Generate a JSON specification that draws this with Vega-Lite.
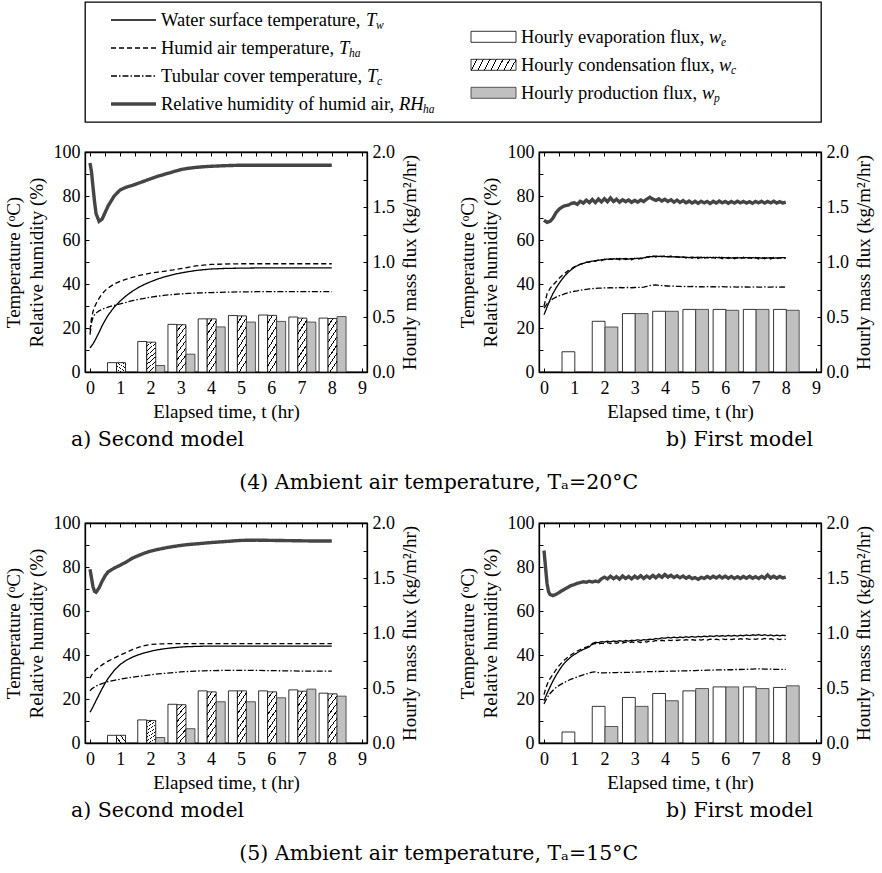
{
"$schema": "https://vega.github.io/schema/vega-lite/v6.json",
"padding": {"left": 3, "top": 1, "right": 5, "bottom": 3},
"background": "white",
"spacing": 19,
"config": {
 "view": {"stroke": "black", "strokeWidth": 1.3},
 "font": "Liberation Serif",
 "axis": {"grid": false, "domainColor": "black", "domainWidth": 1.3, "tickColor": "black", "tickWidth": 1, "tickSize": -4, "labelFont": "Liberation Serif", "labelFontSize": 18, "labelColor": "black", "labelPadding": 9, "labelFlush": false, "labelOverlap": false, "titleFont": "Liberation Serif", "titleFontSize": 19, "titleFontWeight": "normal", "titleColor": "black"},
 "axisX": {"labelPadding": 11},
 "title": {"font": "DejaVu Serif", "fontSize": 20.5, "fontWeight": "normal", "color": "black"}
},
"datasets": {
 "legend": [
  {"id": "w", "kind": "line", "s": "Tw", "col": 0, "row": 0, "label": "Water surface temperature,", "sym": "T", "sub": "w"},
  {"id": "ha", "kind": "line", "s": "Tha", "col": 0, "row": 1, "label": "Humid air temperature,", "sym": "T", "sub": "ha"},
  {"id": "c", "kind": "line", "s": "Tc", "col": 0, "row": 2, "label": "Tubular cover temperature,", "sym": "T", "sub": "c"},
  {"id": "rh", "kind": "line", "s": "RH", "col": 0, "row": 3, "label": "Relative humidity of humid air,", "sym": "RH", "sub": "ha"},
  {"id": "we", "kind": "bar", "s": "e", "col": 1, "row": 0.6, "label": "Hourly evaporation flux,", "sym": "w", "sub": "e"},
  {"id": "wc", "kind": "bar", "s": "c", "col": 1, "row": 1.6, "label": "Hourly condensation flux,", "sym": "w", "sub": "c"},
  {"id": "wp", "kind": "bar", "s": "p", "col": 1, "row": 2.6, "label": "Hourly production flux,", "sym": "w", "sub": "p"}
 ],
 "btl": [
  {"h": 1, "k": "e", "w": 0.085}, {"h": 1, "k": "c", "w": 0.085},
  {"h": 2, "k": "e", "w": 0.277}, {"h": 2, "k": "c", "w": 0.271}, {"h": 2, "k": "p", "w": 0.059},
  {"h": 3, "k": "e", "w": 0.433}, {"h": 3, "k": "c", "w": 0.43}, {"h": 3, "k": "p", "w": 0.162},
  {"h": 4, "k": "e", "w": 0.483}, {"h": 4, "k": "c", "w": 0.483}, {"h": 4, "k": "p", "w": 0.41},
  {"h": 5, "k": "e", "w": 0.513}, {"h": 5, "k": "c", "w": 0.51}, {"h": 5, "k": "p", "w": 0.454},
  {"h": 6, "k": "e", "w": 0.518}, {"h": 6, "k": "c", "w": 0.515}, {"h": 6, "k": "p", "w": 0.46},
  {"h": 7, "k": "e", "w": 0.5}, {"h": 7, "k": "c", "w": 0.49}, {"h": 7, "k": "p", "w": 0.454},
  {"h": 8, "k": "e", "w": 0.49}, {"h": 8, "k": "c", "w": 0.486}, {"h": 8, "k": "p", "w": 0.504}
 ],
 "btr": [
  {"h": 1, "k": "e", "w": 0.184},
  {"h": 2, "k": "e", "w": 0.461}, {"h": 2, "k": "p", "w": 0.409},
  {"h": 3, "k": "e", "w": 0.531}, {"h": 3, "k": "p", "w": 0.531},
  {"h": 4, "k": "e", "w": 0.552}, {"h": 4, "k": "p", "w": 0.552},
  {"h": 5, "k": "e", "w": 0.569}, {"h": 5, "k": "p", "w": 0.569},
  {"h": 6, "k": "e", "w": 0.569}, {"h": 6, "k": "p", "w": 0.561},
  {"h": 7, "k": "e", "w": 0.569}, {"h": 7, "k": "p", "w": 0.569},
  {"h": 8, "k": "e", "w": 0.569}, {"h": 8, "k": "p", "w": 0.561}
 ],
 "bbl": [
  {"h": 1, "k": "e", "w": 0.07}, {"h": 1, "k": "c", "w": 0.07},
  {"h": 2, "k": "e", "w": 0.21}, {"h": 2, "k": "c", "w": 0.205}, {"h": 2, "k": "p", "w": 0.05},
  {"h": 3, "k": "e", "w": 0.352}, {"h": 3, "k": "c", "w": 0.348}, {"h": 3, "k": "p", "w": 0.13},
  {"h": 4, "k": "e", "w": 0.474}, {"h": 4, "k": "c", "w": 0.465}, {"h": 4, "k": "p", "w": 0.375},
  {"h": 5, "k": "e", "w": 0.474}, {"h": 5, "k": "c", "w": 0.474}, {"h": 5, "k": "p", "w": 0.375},
  {"h": 6, "k": "e", "w": 0.474}, {"h": 6, "k": "c", "w": 0.465}, {"h": 6, "k": "p", "w": 0.411},
  {"h": 7, "k": "e", "w": 0.483}, {"h": 7, "k": "c", "w": 0.471}, {"h": 7, "k": "p", "w": 0.49},
  {"h": 8, "k": "e", "w": 0.453}, {"h": 8, "k": "c", "w": 0.447}, {"h": 8, "k": "p", "w": 0.426}
 ],
 "bbr": [
  {"h": 1, "k": "e", "w": 0.1},
  {"h": 2, "k": "e", "w": 0.333}, {"h": 2, "k": "p", "w": 0.15},
  {"h": 3, "k": "e", "w": 0.414}, {"h": 3, "k": "p", "w": 0.333},
  {"h": 4, "k": "e", "w": 0.45}, {"h": 4, "k": "p", "w": 0.384},
  {"h": 5, "k": "e", "w": 0.474}, {"h": 5, "k": "p", "w": 0.495},
  {"h": 6, "k": "e", "w": 0.51}, {"h": 6, "k": "p", "w": 0.51},
  {"h": 7, "k": "e", "w": 0.51}, {"h": 7, "k": "p", "w": 0.495},
  {"h": 8, "k": "e", "w": 0.505}, {"h": 8, "k": "p", "w": 0.52}
 ],
 "tl": [
  {"t": 0, "Tw": 11, "Tha": 19, "Tc": 17, "RH": 95},
  {"t": 0.05, "Tw": 11.8, "Tha": 24.5, "Tc": 22.5, "RH": 91},
  {"t": 0.1, "Tw": 12.8, "Tha": 27.5, "Tc": 24.8, "RH": 84},
  {"t": 0.15, "Tw": 14, "Tha": 29.5, "Tc": 26, "RH": 77.5},
  {"t": 0.2, "Tw": 15.3, "Tha": 31, "Tc": 26.8, "RH": 72},
  {"t": 0.3, "Tw": 18, "Tha": 33.5, "Tc": 27.8, "RH": 68.5},
  {"t": 0.4, "Tw": 21, "Tha": 35.5, "Tc": 28.5, "RH": 69.5},
  {"t": 0.5, "Tw": 23.5, "Tha": 37, "Tc": 29, "RH": 72.5},
  {"t": 0.6, "Tw": 25.8, "Tha": 38.2, "Tc": 29.5, "RH": 75.5},
  {"t": 0.8, "Tw": 29.5, "Tha": 40, "Tc": 30.3, "RH": 80},
  {"t": 1, "Tw": 32.3, "Tha": 41.2, "Tc": 31, "RH": 82.8},
  {"t": 1.2, "Tw": 34.7, "Tha": 42.2, "Tc": 31.7, "RH": 84},
  {"t": 1.4, "Tw": 36.7, "Tha": 43, "Tc": 32.4, "RH": 84.8},
  {"t": 1.6, "Tw": 38.4, "Tha": 43.8, "Tc": 33, "RH": 85.8},
  {"t": 1.8, "Tw": 39.8, "Tha": 44.4, "Tc": 33.5, "RH": 86.8},
  {"t": 2, "Tw": 41, "Tha": 44.9, "Tc": 34, "RH": 87.8},
  {"t": 2.25, "Tw": 42.3, "Tha": 45.4, "Tc": 34.5, "RH": 89},
  {"t": 2.5, "Tw": 43.4, "Tha": 45.9, "Tc": 34.9, "RH": 90},
  {"t": 2.75, "Tw": 44.3, "Tha": 46.4, "Tc": 35.2, "RH": 91},
  {"t": 3, "Tw": 45, "Tha": 47, "Tc": 35.5, "RH": 92},
  {"t": 3.25, "Tw": 45.6, "Tha": 47.6, "Tc": 35.7, "RH": 92.6},
  {"t": 3.5, "Tw": 46.1, "Tha": 48.2, "Tc": 35.9, "RH": 93},
  {"t": 3.75, "Tw": 46.5, "Tha": 48.6, "Tc": 36, "RH": 93.3},
  {"t": 4, "Tw": 46.8, "Tha": 48.9, "Tc": 36.1, "RH": 93.5},
  {"t": 4.5, "Tw": 47.1, "Tha": 49.1, "Tc": 36.3, "RH": 93.8},
  {"t": 5, "Tw": 47.2, "Tha": 49.2, "Tc": 36.4, "RH": 94},
  {"t": 5.5, "Tw": 47.3, "Tha": 49.2, "Tc": 36.5, "RH": 94},
  {"t": 6, "Tw": 47.3, "Tha": 49.2, "Tc": 36.5, "RH": 94},
  {"t": 7, "Tw": 47.3, "Tha": 49.2, "Tc": 36.5, "RH": 94},
  {"t": 8, "Tw": 47.3, "Tha": 49.2, "Tc": 36.5, "RH": 94}
 ],
 "bl": [
  {"t": 0, "Tw": 14, "Tha": 29.5, "Tc": 23.7, "RH": 79},
  {"t": 0.05, "Tw": 15.2, "Tha": 30.8, "Tc": 24.5, "RH": 75},
  {"t": 0.1, "Tw": 16.5, "Tha": 31.8, "Tc": 25, "RH": 71},
  {"t": 0.15, "Tw": 17.9, "Tha": 32.7, "Tc": 25.5, "RH": 68.9},
  {"t": 0.2, "Tw": 19.3, "Tha": 33.4, "Tc": 25.9, "RH": 68.5},
  {"t": 0.3, "Tw": 22, "Tha": 34.5, "Tc": 26.5, "RH": 70.5},
  {"t": 0.4, "Tw": 24.7, "Tha": 35.5, "Tc": 27, "RH": 73.5},
  {"t": 0.5, "Tw": 27.2, "Tha": 36.4, "Tc": 27.5, "RH": 76},
  {"t": 0.6, "Tw": 29.4, "Tha": 37.2, "Tc": 27.9, "RH": 77.8},
  {"t": 0.8, "Tw": 33, "Tha": 38.6, "Tc": 28.5, "RH": 79.5},
  {"t": 1, "Tw": 35.7, "Tha": 40, "Tc": 29, "RH": 80.8},
  {"t": 1.2, "Tw": 37.6, "Tha": 41.2, "Tc": 29.5, "RH": 82.3},
  {"t": 1.4, "Tw": 39, "Tha": 42.4, "Tc": 29.9, "RH": 84},
  {"t": 1.6, "Tw": 40.1, "Tha": 43.5, "Tc": 30.3, "RH": 85.2},
  {"t": 1.8, "Tw": 41, "Tha": 44.3, "Tc": 30.6, "RH": 86.3},
  {"t": 2, "Tw": 41.7, "Tha": 44.8, "Tc": 31, "RH": 87.2},
  {"t": 2.25, "Tw": 42.4, "Tha": 45, "Tc": 31.4, "RH": 88},
  {"t": 2.5, "Tw": 42.9, "Tha": 45.1, "Tc": 31.7, "RH": 88.7},
  {"t": 2.75, "Tw": 43.3, "Tha": 45.2, "Tc": 32, "RH": 89.3},
  {"t": 3, "Tw": 43.6, "Tha": 45.2, "Tc": 32.3, "RH": 89.8},
  {"t": 3.25, "Tw": 43.8, "Tha": 45.2, "Tc": 32.5, "RH": 90.2},
  {"t": 3.5, "Tw": 43.9, "Tha": 45.2, "Tc": 32.7, "RH": 90.5},
  {"t": 3.75, "Tw": 44, "Tha": 45.2, "Tc": 32.8, "RH": 90.8},
  {"t": 4, "Tw": 44, "Tha": 45.2, "Tc": 32.9, "RH": 91.1},
  {"t": 4.5, "Tw": 44, "Tha": 45.2, "Tc": 33, "RH": 91.6},
  {"t": 5, "Tw": 44, "Tha": 45.2, "Tc": 33, "RH": 92.1},
  {"t": 5.5, "Tw": 44, "Tha": 45.2, "Tc": 33, "RH": 92.2},
  {"t": 6, "Tw": 44, "Tha": 45.2, "Tc": 32.9, "RH": 92.1},
  {"t": 6.5, "Tw": 44, "Tha": 45.2, "Tc": 32.8, "RH": 92},
  {"t": 7, "Tw": 44, "Tha": 45.2, "Tc": 32.7, "RH": 91.9},
  {"t": 7.5, "Tw": 44, "Tha": 45.2, "Tc": 32.7, "RH": 91.8},
  {"t": 8, "Tw": 44, "Tha": 45.2, "Tc": 32.7, "RH": 91.8}
 ],
 "tr": [
  {"t": 0, "Tw": 26, "Tha": 30, "Tc": 29, "RH": 69},
  {"t": 0.1, "Tw": 29.5, "Tha": 35.5, "Tc": 31, "RH": 68},
  {"t": 0.2, "Tw": 32.8, "Tha": 38, "Tc": 32.3, "RH": 68.5},
  {"t": 0.3, "Tw": 35.8, "Tha": 39.6, "Tc": 33.3, "RH": 70},
  {"t": 0.4, "Tw": 38.2, "Tha": 41, "Tc": 34, "RH": 72.5},
  {"t": 0.5, "Tw": 40.3, "Tha": 42.6, "Tc": 34.6, "RH": 74},
  {"t": 0.6, "Tw": 42.2, "Tha": 43.9, "Tc": 35.1, "RH": 75},
  {"t": 0.7, "Tw": 43.9, "Tha": 45, "Tc": 35.6, "RH": 75.6},
  {"t": 0.8, "Tw": 45.3, "Tha": 46.1, "Tc": 36, "RH": 75.8},
  {"t": 0.9, "Tw": 46.5, "Tha": 46.9, "Tc": 36.4, "RH": 76.6},
  {"t": 1, "Tw": 47.5, "Tha": 47.8, "Tc": 36.7, "RH": 76.9},
  {"t": 1.1, "Tw": 48.3, "Tha": 48.4, "Tc": 36.9, "RH": 76.2},
  {"t": 1.2, "Tw": 48.9, "Tha": 49, "Tc": 37.2, "RH": 77.6},
  {"t": 1.3, "Tw": 49.4, "Tha": 49.4, "Tc": 37.4, "RH": 76.8},
  {"t": 1.4, "Tw": 49.8, "Tha": 49.9, "Tc": 37.6, "RH": 78.1},
  {"t": 1.5, "Tw": 50.1, "Tha": 50, "Tc": 37.8, "RH": 77},
  {"t": 1.6, "Tw": 50.4, "Tha": 50.5, "Tc": 37.9, "RH": 78.4},
  {"t": 1.7, "Tw": 50.6, "Tha": 50.3, "Tc": 38, "RH": 77},
  {"t": 1.8, "Tw": 50.8, "Tha": 51, "Tc": 38.1, "RH": 78.6},
  {"t": 1.9, "Tw": 51, "Tha": 50.6, "Tc": 38.1, "RH": 77.3},
  {"t": 2, "Tw": 51.1, "Tha": 51.3, "Tc": 38.2, "RH": 78.8},
  {"t": 2.1, "Tw": 51.3, "Tha": 50.8, "Tc": 38.2, "RH": 77.4},
  {"t": 2.2, "Tw": 51.2, "Tha": 51.5, "Tc": 38.3, "RH": 79.1},
  {"t": 2.3, "Tw": 51.5, "Tha": 51, "Tc": 38.2, "RH": 77.5},
  {"t": 2.4, "Tw": 51.3, "Tha": 51.6, "Tc": 38.3, "RH": 78.5},
  {"t": 2.5, "Tw": 51.6, "Tha": 51, "Tc": 38.4, "RH": 77.2},
  {"t": 2.6, "Tw": 51.4, "Tha": 51.7, "Tc": 38.3, "RH": 78.3},
  {"t": 2.7, "Tw": 51.6, "Tha": 51.1, "Tc": 38.4, "RH": 77.4},
  {"t": 2.8, "Tw": 51.3, "Tha": 51.6, "Tc": 38.4, "RH": 78.2},
  {"t": 2.9, "Tw": 51.6, "Tha": 51, "Tc": 38.3, "RH": 77.1},
  {"t": 3, "Tw": 51.5, "Tha": 51.7, "Tc": 38.4, "RH": 78},
  {"t": 3.1, "Tw": 51.7, "Tha": 51.2, "Tc": 38.5, "RH": 77.2},
  {"t": 3.2, "Tw": 51.5, "Tha": 51.8, "Tc": 38.4, "RH": 78.2},
  {"t": 3.3, "Tw": 51.9, "Tha": 51.4, "Tc": 38.6, "RH": 77.5},
  {"t": 3.4, "Tw": 52.2, "Tha": 52.3, "Tc": 38.9, "RH": 78.6},
  {"t": 3.5, "Tw": 52.5, "Tha": 52.2, "Tc": 39.3, "RH": 79.4},
  {"t": 3.6, "Tw": 52.4, "Tha": 52.8, "Tc": 39.5, "RH": 78.6},
  {"t": 3.7, "Tw": 52.7, "Tha": 52.3, "Tc": 39.6, "RH": 78},
  {"t": 3.8, "Tw": 52.5, "Tha": 52.9, "Tc": 39.4, "RH": 78.7},
  {"t": 3.9, "Tw": 52.6, "Tha": 52.4, "Tc": 39.3, "RH": 77.7},
  {"t": 4, "Tw": 52.4, "Tha": 52.8, "Tc": 39.2, "RH": 78.5},
  {"t": 4.1, "Tw": 52.5, "Tha": 52.2, "Tc": 39.1, "RH": 77.5},
  {"t": 4.2, "Tw": 52.3, "Tha": 52.7, "Tc": 39, "RH": 78.3},
  {"t": 4.3, "Tw": 52.4, "Tha": 52, "Tc": 39, "RH": 77.2},
  {"t": 4.4, "Tw": 52.2, "Tha": 52.5, "Tc": 38.9, "RH": 78.1},
  {"t": 4.5, "Tw": 52.3, "Tha": 51.9, "Tc": 38.9, "RH": 77.1},
  {"t": 4.6, "Tw": 52.1, "Tha": 52.4, "Tc": 38.8, "RH": 77.9},
  {"t": 4.7, "Tw": 52.2, "Tha": 51.8, "Tc": 38.9, "RH": 76.9},
  {"t": 4.8, "Tw": 52, "Tha": 52.3, "Tc": 38.8, "RH": 77.7},
  {"t": 4.9, "Tw": 52.2, "Tha": 51.7, "Tc": 38.9, "RH": 76.8},
  {"t": 5, "Tw": 52, "Tha": 52.3, "Tc": 38.8, "RH": 77.6},
  {"t": 5.1, "Tw": 52.2, "Tha": 51.6, "Tc": 38.7, "RH": 76.7},
  {"t": 5.2, "Tw": 51.9, "Tha": 52.3, "Tc": 38.8, "RH": 77.6},
  {"t": 5.3, "Tw": 52.1, "Tha": 51.6, "Tc": 38.7, "RH": 76.9},
  {"t": 5.4, "Tw": 51.9, "Tha": 52.2, "Tc": 38.8, "RH": 77.5},
  {"t": 5.5, "Tw": 52.1, "Tha": 51.5, "Tc": 38.7, "RH": 76.6},
  {"t": 5.6, "Tw": 51.9, "Tha": 52.2, "Tc": 38.8, "RH": 77.6},
  {"t": 5.7, "Tw": 52.1, "Tha": 51.6, "Tc": 38.7, "RH": 76.8},
  {"t": 5.8, "Tw": 51.9, "Tha": 52.2, "Tc": 38.7, "RH": 77.7},
  {"t": 5.9, "Tw": 52.1, "Tha": 51.5, "Tc": 38.8, "RH": 76.9},
  {"t": 6, "Tw": 51.9, "Tha": 52.1, "Tc": 38.7, "RH": 77.5},
  {"t": 6.1, "Tw": 52.1, "Tha": 51.6, "Tc": 38.7, "RH": 76.7},
  {"t": 6.2, "Tw": 51.8, "Tha": 52.2, "Tc": 38.6, "RH": 77.5},
  {"t": 6.3, "Tw": 52, "Tha": 51.5, "Tc": 38.7, "RH": 76.8},
  {"t": 6.4, "Tw": 51.8, "Tha": 52.1, "Tc": 38.6, "RH": 77.6},
  {"t": 6.5, "Tw": 52, "Tha": 51.5, "Tc": 38.7, "RH": 76.9},
  {"t": 6.6, "Tw": 51.8, "Tha": 52.2, "Tc": 38.6, "RH": 77.5},
  {"t": 6.7, "Tw": 52, "Tha": 51.4, "Tc": 38.7, "RH": 76.8},
  {"t": 6.8, "Tw": 51.8, "Tha": 52.1, "Tc": 38.6, "RH": 77.4},
  {"t": 6.9, "Tw": 52, "Tha": 51.5, "Tc": 38.6, "RH": 76.7},
  {"t": 7, "Tw": 51.8, "Tha": 52.1, "Tc": 38.7, "RH": 77.5},
  {"t": 7.1, "Tw": 52, "Tha": 51.4, "Tc": 38.6, "RH": 76.9},
  {"t": 7.2, "Tw": 51.7, "Tha": 52.1, "Tc": 38.6, "RH": 77.6},
  {"t": 7.3, "Tw": 52, "Tha": 51.5, "Tc": 38.7, "RH": 76.8},
  {"t": 7.4, "Tw": 51.8, "Tha": 52, "Tc": 38.6, "RH": 77.5},
  {"t": 7.5, "Tw": 52, "Tha": 51.4, "Tc": 38.6, "RH": 76.9},
  {"t": 7.6, "Tw": 51.7, "Tha": 52.1, "Tc": 38.7, "RH": 77.6},
  {"t": 7.7, "Tw": 51.9, "Tha": 51.5, "Tc": 38.6, "RH": 76.8},
  {"t": 7.8, "Tw": 51.8, "Tha": 52, "Tc": 38.6, "RH": 77.4},
  {"t": 7.9, "Tw": 52, "Tha": 51.5, "Tc": 38.7, "RH": 76.8},
  {"t": 8, "Tw": 51.9, "Tha": 51.9, "Tc": 38.6, "RH": 77.2}
 ],
 "br": [
  {"t": 0, "Tw": 19.2, "Tha": 22, "Tc": 17.7, "RH": 87.5},
  {"t": 0.05, "Tw": 20.9, "Tha": 24.5, "Tc": 19.2, "RH": 80},
  {"t": 0.1, "Tw": 22.5, "Tha": 26.5, "Tc": 20.5, "RH": 72.5},
  {"t": 0.15, "Tw": 24, "Tha": 28, "Tc": 21.5, "RH": 68.8},
  {"t": 0.2, "Tw": 25.5, "Tha": 29.3, "Tc": 22.5, "RH": 67.5},
  {"t": 0.3, "Tw": 28.3, "Tha": 31.2, "Tc": 24, "RH": 67},
  {"t": 0.4, "Tw": 30.8, "Tha": 33.3, "Tc": 25.2, "RH": 67.6},
  {"t": 0.5, "Tw": 33, "Tha": 35.2, "Tc": 26.2, "RH": 68.4},
  {"t": 0.6, "Tw": 35, "Tha": 36.7, "Tc": 27, "RH": 69.3},
  {"t": 0.7, "Tw": 36.7, "Tha": 38, "Tc": 27.7, "RH": 70.1},
  {"t": 0.8, "Tw": 38, "Tha": 39.1, "Tc": 28.4, "RH": 70.8},
  {"t": 0.9, "Tw": 39.2, "Tha": 40.1, "Tc": 29, "RH": 71.6},
  {"t": 1, "Tw": 40.2, "Tha": 41, "Tc": 29.5, "RH": 72},
  {"t": 1.1, "Tw": 41, "Tha": 41.8, "Tc": 30, "RH": 72.6},
  {"t": 1.2, "Tw": 41.8, "Tha": 42.5, "Tc": 30.5, "RH": 72.9},
  {"t": 1.3, "Tw": 42.5, "Tha": 43.1, "Tc": 31, "RH": 73.3},
  {"t": 1.4, "Tw": 43.1, "Tha": 43.6, "Tc": 31.4, "RH": 73.1},
  {"t": 1.5, "Tw": 43.7, "Tha": 44.1, "Tc": 31.8, "RH": 73.5},
  {"t": 1.6, "Tw": 45.2, "Tha": 44.8, "Tc": 32.2, "RH": 73.2},
  {"t": 1.7, "Tw": 45.8, "Tha": 45.3, "Tc": 32.3, "RH": 73.6},
  {"t": 1.8, "Tw": 45.6, "Tha": 45, "Tc": 32, "RH": 73.3},
  {"t": 1.9, "Tw": 46.1, "Tha": 45.4, "Tc": 31.9, "RH": 74.6},
  {"t": 2, "Tw": 45.9, "Tha": 45.1, "Tc": 31.9, "RH": 75.4},
  {"t": 2.1, "Tw": 46.3, "Tha": 45.6, "Tc": 32, "RH": 74.6},
  {"t": 2.2, "Tw": 46, "Tha": 45.2, "Tc": 31.9, "RH": 75.8},
  {"t": 2.3, "Tw": 46.4, "Tha": 45.7, "Tc": 32, "RH": 74.7},
  {"t": 2.4, "Tw": 46.1, "Tha": 45.3, "Tc": 32, "RH": 75.6},
  {"t": 2.5, "Tw": 46.5, "Tha": 45.8, "Tc": 32.1, "RH": 74.5},
  {"t": 2.6, "Tw": 46.2, "Tha": 45.4, "Tc": 32, "RH": 75.9},
  {"t": 2.7, "Tw": 46.6, "Tha": 45.9, "Tc": 32.1, "RH": 74.8},
  {"t": 2.8, "Tw": 46.3, "Tha": 45.5, "Tc": 32.1, "RH": 75.7},
  {"t": 2.9, "Tw": 46.7, "Tha": 46, "Tc": 32.2, "RH": 74.6},
  {"t": 3, "Tw": 46.5, "Tha": 45.6, "Tc": 32.2, "RH": 75.8},
  {"t": 3.1, "Tw": 46.9, "Tha": 46.1, "Tc": 32.2, "RH": 74.9},
  {"t": 3.2, "Tw": 46.6, "Tha": 45.7, "Tc": 32.3, "RH": 76},
  {"t": 3.3, "Tw": 47, "Tha": 46.2, "Tc": 32.3, "RH": 74.8},
  {"t": 3.4, "Tw": 46.8, "Tha": 45.9, "Tc": 32.4, "RH": 75.9},
  {"t": 3.5, "Tw": 47.2, "Tha": 46.4, "Tc": 32.4, "RH": 75},
  {"t": 3.6, "Tw": 47, "Tha": 46.1, "Tc": 32.4, "RH": 76.2},
  {"t": 3.7, "Tw": 47.5, "Tha": 46.6, "Tc": 32.5, "RH": 75.1},
  {"t": 3.8, "Tw": 47.3, "Tha": 46.3, "Tc": 32.5, "RH": 76.3},
  {"t": 3.9, "Tw": 47.8, "Tha": 46.7, "Tc": 32.6, "RH": 75.3},
  {"t": 4, "Tw": 47.6, "Tha": 46.4, "Tc": 32.6, "RH": 76.6},
  {"t": 4.1, "Tw": 48, "Tha": 46.8, "Tc": 32.6, "RH": 75.4},
  {"t": 4.2, "Tw": 47.7, "Tha": 46.5, "Tc": 32.7, "RH": 76.2},
  {"t": 4.3, "Tw": 48.1, "Tha": 46.9, "Tc": 32.7, "RH": 75.2},
  {"t": 4.4, "Tw": 47.8, "Tha": 46.6, "Tc": 32.7, "RH": 76},
  {"t": 4.5, "Tw": 48.2, "Tha": 46.9, "Tc": 32.8, "RH": 75.1},
  {"t": 4.6, "Tw": 47.9, "Tha": 46.6, "Tc": 32.8, "RH": 75.9},
  {"t": 4.7, "Tw": 48.3, "Tha": 47, "Tc": 32.8, "RH": 74.9},
  {"t": 4.8, "Tw": 48, "Tha": 46.7, "Tc": 32.9, "RH": 75.7},
  {"t": 4.9, "Tw": 48.4, "Tha": 47, "Tc": 32.9, "RH": 74.7},
  {"t": 5, "Tw": 48.1, "Tha": 46.7, "Tc": 32.9, "RH": 75.2},
  {"t": 5.1, "Tw": 48.5, "Tha": 47.1, "Tc": 33, "RH": 74.4},
  {"t": 5.2, "Tw": 48.2, "Tha": 46.8, "Tc": 33, "RH": 75.3},
  {"t": 5.3, "Tw": 48.6, "Tha": 47.1, "Tc": 33, "RH": 74.8},
  {"t": 5.4, "Tw": 48.3, "Tha": 46.8, "Tc": 33.1, "RH": 75.7},
  {"t": 5.5, "Tw": 48.7, "Tha": 47.2, "Tc": 33.1, "RH": 74.9},
  {"t": 5.6, "Tw": 48.4, "Tha": 46.9, "Tc": 33.1, "RH": 75.8},
  {"t": 5.7, "Tw": 48.8, "Tha": 47.2, "Tc": 33.2, "RH": 75},
  {"t": 5.8, "Tw": 48.5, "Tha": 46.9, "Tc": 33.2, "RH": 75.9},
  {"t": 5.9, "Tw": 48.8, "Tha": 47.3, "Tc": 33.2, "RH": 75},
  {"t": 6, "Tw": 48.5, "Tha": 47, "Tc": 33.3, "RH": 75.8},
  {"t": 6.1, "Tw": 48.9, "Tha": 47.3, "Tc": 33.3, "RH": 74.9},
  {"t": 6.2, "Tw": 48.6, "Tha": 47, "Tc": 33.3, "RH": 75.7},
  {"t": 6.3, "Tw": 48.9, "Tha": 47.3, "Tc": 33.4, "RH": 74.8},
  {"t": 6.4, "Tw": 48.6, "Tha": 47, "Tc": 33.4, "RH": 75.6},
  {"t": 6.5, "Tw": 49, "Tha": 47.4, "Tc": 33.4, "RH": 74.8},
  {"t": 6.6, "Tw": 48.7, "Tha": 47.1, "Tc": 33.5, "RH": 75.7},
  {"t": 6.7, "Tw": 49.1, "Tha": 47.4, "Tc": 33.5, "RH": 74.9},
  {"t": 6.8, "Tw": 48.8, "Tha": 47.1, "Tc": 33.6, "RH": 75.8},
  {"t": 6.9, "Tw": 49.2, "Tha": 47.4, "Tc": 33.6, "RH": 74.9},
  {"t": 7, "Tw": 48.9, "Tha": 47.1, "Tc": 33.7, "RH": 75.6},
  {"t": 7.1, "Tw": 49.3, "Tha": 47.5, "Tc": 33.7, "RH": 74.8},
  {"t": 7.2, "Tw": 48.9, "Tha": 47.1, "Tc": 33.7, "RH": 75.7},
  {"t": 7.3, "Tw": 49.2, "Tha": 47.5, "Tc": 33.6, "RH": 74.9},
  {"t": 7.4, "Tw": 48.8, "Tha": 47.1, "Tc": 33.6, "RH": 76.4},
  {"t": 7.5, "Tw": 49.1, "Tha": 47.4, "Tc": 33.6, "RH": 75},
  {"t": 7.6, "Tw": 48.7, "Tha": 47, "Tc": 33.5, "RH": 75.8},
  {"t": 7.7, "Tw": 49, "Tha": 47.4, "Tc": 33.5, "RH": 74.9},
  {"t": 7.8, "Tw": 48.7, "Tha": 47, "Tc": 33.5, "RH": 75.7},
  {"t": 7.9, "Tw": 49, "Tha": 47.3, "Tc": 33.5, "RH": 75},
  {"t": 8, "Tw": 48.8, "Tha": 47.1, "Tc": 33.5, "RH": 75.4}
 ]
},
"vconcat": [
 {
  "width": 736, "height": 120,
  "data": {"name": "legend"},
  "encoding": {
   "x": {"field": "col", "type": "quantitative", "scale": {"domain": [-0.07222, 1.97222], "nice": false, "zero": false}, "axis": null},
   "y": {"field": "row", "type": "quantitative", "scale": {"domain": [-0.6429, 3.6429], "nice": false, "zero": false, "reverse": true}, "axis": {"orient": "left", "values": [0], "labelExpr": "'100'", "labelColor": "transparent", "tickColor": "transparent", "domain": false, "title": ["T", "R"], "titleColor": "transparent", "titlePadding": 7, "titleLineHeight": 23}}
  },
  "layer": [
   {"transform": [{"filter": "datum.kind === 'line'"}], "mark": {"type": "rule", "x2Offset": 45},
    "encoding": {"x2": {"field": "col"},
     "strokeDash": {"field": "s", "type": "nominal", "scale": {"domain": ["Tw", "Tha", "Tc", "RH"], "range": [[1, 0], [5, 3], [6, 2, 1.5, 2], [1, 0]]}, "legend": null},
     "strokeWidth": {"condition": {"test": "datum.s === 'RH'", "value": 3.4}, "value": 1.3},
     "color": {"condition": {"test": "datum.s === 'RH'", "value": "#454545"}, "value": "black"}}},
   {"transform": [{"filter": "datum.id === 'we'"}], "mark": {"type": "rect", "x2Offset": 45, "yOffset": -5.5, "y2Offset": 5.5, "fill": "white", "stroke": "black", "strokeWidth": 0.8}, "encoding": {"x2": {"field": "col"}, "y2": {"field": "row"}}},
   {"transform": [{"filter": "datum.id === 'wc'"}], "mark": {"type": "rect", "x2Offset": 45, "yOffset": -5.5, "y2Offset": 5.5, "stroke": "black", "strokeWidth": 0.8,
     "fill": {"gradient": "linear", "x1": 0, "y1": 0, "x2": 1, "y2": 0.13, "stops": [{"offset": 0, "color": "white"}, {"offset": 0.12, "color": "white"}, {"offset": 0.12, "color": "black"}, {"offset": 0.143, "color": "black"}, {"offset": 0.143, "color": "white"}, {"offset": 0.263, "color": "white"}, {"offset": 0.263, "color": "black"}, {"offset": 0.286, "color": "black"}, {"offset": 0.286, "color": "white"}, {"offset": 0.406, "color": "white"}, {"offset": 0.406, "color": "black"}, {"offset": 0.429, "color": "black"}, {"offset": 0.429, "color": "white"}, {"offset": 0.549, "color": "white"}, {"offset": 0.549, "color": "black"}, {"offset": 0.571, "color": "black"}, {"offset": 0.571, "color": "white"}, {"offset": 0.691, "color": "white"}, {"offset": 0.691, "color": "black"}, {"offset": 0.714, "color": "black"}, {"offset": 0.714, "color": "white"}, {"offset": 0.834, "color": "white"}, {"offset": 0.834, "color": "black"}, {"offset": 0.857, "color": "black"}, {"offset": 0.857, "color": "white"}, {"offset": 0.977, "color": "white"}, {"offset": 0.977, "color": "black"}, {"offset": 0.999, "color": "black"}, {"offset": 0.999, "color": "white"}, {"offset": 1, "color": "white"}]}},
    "encoding": {"x2": {"field": "col"}, "y2": {"field": "row"}}},
   {"transform": [{"filter": "datum.id === 'wp'"}], "mark": {"type": "rect", "x2Offset": 45, "yOffset": -5.5, "y2Offset": 5.5, "fill": "#c0c0c0", "stroke": "#333333", "strokeWidth": 0.8}, "encoding": {"x2": {"field": "col"}, "y2": {"field": "row"}}},
   {"mark": {"type": "text", "dx": 50, "align": "left", "baseline": "middle", "fontSize": 18.5, "font": "Liberation Serif"}, "encoding": {"text": {"field": "label"}}},
   {"transform": [{"filter": "datum.id === 'w'"}], "mark": {"type": "text", "dx": 255, "align": "left", "baseline": "middle", "fontSize": 18.5, "fontStyle": "italic", "font": "Liberation Serif"}, "encoding": {"text": {"field": "sym"}}},
   {"transform": [{"filter": "datum.id === 'w'"}], "mark": {"type": "text", "dx": 265, "dy": 6, "align": "left", "baseline": "middle", "fontSize": 11.5, "fontStyle": "italic", "font": "Liberation Serif"}, "encoding": {"text": {"field": "sub"}}},
   {"transform": [{"filter": "datum.id === 'ha'"}], "mark": {"type": "text", "dx": 228, "align": "left", "baseline": "middle", "fontSize": 18.5, "fontStyle": "italic", "font": "Liberation Serif"}, "encoding": {"text": {"field": "sym"}}},
   {"transform": [{"filter": "datum.id === 'ha'"}], "mark": {"type": "text", "dx": 238, "dy": 6, "align": "left", "baseline": "middle", "fontSize": 11.5, "fontStyle": "italic", "font": "Liberation Serif"}, "encoding": {"text": {"field": "sub"}}},
   {"transform": [{"filter": "datum.id === 'c'"}], "mark": {"type": "text", "dx": 256, "align": "left", "baseline": "middle", "fontSize": 18.5, "fontStyle": "italic", "font": "Liberation Serif"}, "encoding": {"text": {"field": "sym"}}},
   {"transform": [{"filter": "datum.id === 'c'"}], "mark": {"type": "text", "dx": 266, "dy": 6, "align": "left", "baseline": "middle", "fontSize": 11.5, "fontStyle": "italic", "font": "Liberation Serif"}, "encoding": {"text": {"field": "sub"}}},
   {"transform": [{"filter": "datum.id === 'rh'"}], "mark": {"type": "text", "dx": 288, "align": "left", "baseline": "middle", "fontSize": 18.5, "fontStyle": "italic", "font": "Liberation Serif"}, "encoding": {"text": {"field": "sym"}}},
   {"transform": [{"filter": "datum.id === 'rh'"}], "mark": {"type": "text", "dx": 312, "dy": 6, "align": "left", "baseline": "middle", "fontSize": 11.5, "fontStyle": "italic", "font": "Liberation Serif"}, "encoding": {"text": {"field": "sub"}}},
   {"transform": [{"filter": "datum.id === 'we'"}], "mark": {"type": "text", "dx": 238, "align": "left", "baseline": "middle", "fontSize": 18.5, "fontStyle": "italic", "font": "Liberation Serif"}, "encoding": {"text": {"field": "sym"}}},
   {"transform": [{"filter": "datum.id === 'we'"}], "mark": {"type": "text", "dx": 250, "dy": 6, "align": "left", "baseline": "middle", "fontSize": 11.5, "fontStyle": "italic", "font": "Liberation Serif"}, "encoding": {"text": {"field": "sub"}}},
   {"transform": [{"filter": "datum.id === 'wc'"}], "mark": {"type": "text", "dx": 248, "align": "left", "baseline": "middle", "fontSize": 18.5, "fontStyle": "italic", "font": "Liberation Serif"}, "encoding": {"text": {"field": "sym"}}},
   {"transform": [{"filter": "datum.id === 'wc'"}], "mark": {"type": "text", "dx": 260, "dy": 6, "align": "left", "baseline": "middle", "fontSize": 11.5, "fontStyle": "italic", "font": "Liberation Serif"}, "encoding": {"text": {"field": "sub"}}},
   {"transform": [{"filter": "datum.id === 'wp'"}], "mark": {"type": "text", "dx": 231, "align": "left", "baseline": "middle", "fontSize": 18.5, "fontStyle": "italic", "font": "Liberation Serif"}, "encoding": {"text": {"field": "sym"}}},
   {"transform": [{"filter": "datum.id === 'wp'"}], "mark": {"type": "text", "dx": 243, "dy": 6, "align": "left", "baseline": "middle", "fontSize": 11.5, "fontStyle": "italic", "font": "Liberation Serif"}, "encoding": {"text": {"field": "sub"}}}
  ]
 },
 {
  "hconcat": [
   {
    "width": 282, "height": 220,
    "title": {"text": "a) Second model", "orient": "bottom", "anchor": "start", "frame": "group", "dx": -14, "offset": 9},
    "resolve": {"scale": {"y": "independent"}, "axis": {"x": "independent"}},
    "layer": [
     {
      "data": {"name": "btl"},
      "encoding": {
       "x": {"field": "h", "type": "quantitative", "scale": {"domain": [0, 9], "nice": false}, "axis": {"orient": "top", "values": [0, 0.5, 1, 1.5, 2, 2.5, 3, 3.5, 4, 4.5, 5, 5.5, 6, 6.5, 7, 7.5, 8, 8.5, 9], "labels": false, "title": null}},
       "y": {"field": "w", "type": "quantitative", "scale": {"domain": [0, 2], "nice": false}, "axis": {"orient": "right", "values": [0, 0.25, 0.5, 0.75, 1, 1.25, 1.5, 1.75, 2], "format": ".1f", "labelExpr": "datum.value % 0.5 === 0 ? datum.label : ''", "title": "Hourly mass flux (kg/m²/hr)", "titleAngle": 270, "titleBaseline": "top", "titlePadding": 6}}
      },
      "layer": [
       {"transform": [{"filter": "datum.k === 'e'"}], "mark": {"type": "bar", "width": 9, "xOffset": -8.2, "fill": "white", "stroke": "black", "strokeWidth": 0.8}},
       {"transform": [{"filter": "datum.k === 'c'"}], "mark": {"type": "bar", "width": 9, "xOffset": 0.8, "stroke": "black", "strokeWidth": 0.8,
         "fill": {"gradient": "linear", "x1": 0, "y1": 0, "x2": 0.25, "y2": 1, "stops": [{"offset": 0, "color": "white"}, {"offset": 0.115, "color": "white"}, {"offset": 0.115, "color": "black"}, {"offset": 0.143, "color": "black"}, {"offset": 0.143, "color": "white"}, {"offset": 0.258, "color": "white"}, {"offset": 0.258, "color": "black"}, {"offset": 0.286, "color": "black"}, {"offset": 0.286, "color": "white"}, {"offset": 0.401, "color": "white"}, {"offset": 0.401, "color": "black"}, {"offset": 0.429, "color": "black"}, {"offset": 0.429, "color": "white"}, {"offset": 0.544, "color": "white"}, {"offset": 0.544, "color": "black"}, {"offset": 0.571, "color": "black"}, {"offset": 0.571, "color": "white"}, {"offset": 0.686, "color": "white"}, {"offset": 0.686, "color": "black"}, {"offset": 0.714, "color": "black"}, {"offset": 0.714, "color": "white"}, {"offset": 0.829, "color": "white"}, {"offset": 0.829, "color": "black"}, {"offset": 0.857, "color": "black"}, {"offset": 0.857, "color": "white"}, {"offset": 0.972, "color": "white"}, {"offset": 0.972, "color": "black"}, {"offset": 0.998, "color": "black"}, {"offset": 0.998, "color": "white"}, {"offset": 1, "color": "white"}]}}},
       {"transform": [{"filter": "datum.k === 'p'"}], "mark": {"type": "bar", "width": 9, "xOffset": 9.8, "fill": "#c0c0c0", "stroke": "#333333", "strokeWidth": 0.8}}
      ]
     },
     {
      "data": {"name": "tl"},
      "transform": [{"fold": ["Tw", "Tha", "Tc", "RH"], "as": ["s", "v"]}],
      "mark": {"type": "line"},
      "encoding": {
       "x": {"field": "t", "type": "quantitative", "scale": {"domain": [0, 9], "nice": false}, "axis": {"orient": "bottom", "values": [0, 0.5, 1, 1.5, 2, 2.5, 3, 3.5, 4, 4.5, 5, 5.5, 6, 6.5, 7, 7.5, 8, 8.5, 9], "format": "d", "labelExpr": "datum.value % 1 === 0 ? datum.label : ''", "title": "Elapsed time, t (hr)", "titlePadding": 5}},
       "y": {"field": "v", "type": "quantitative", "scale": {"domain": [0, 100], "nice": false}, "axis": {"orient": "left", "values": [0, 10, 20, 30, 40, 50, 60, 70, 80, 90, 100], "format": "d", "labelExpr": "datum.value % 20 === 0 ? datum.label : ''", "title": ["Temperature (ᵒC)", "Relative humidity (%)"], "titlePadding": 7, "titleLineHeight": 23}},
       "strokeDash": {"field": "s", "type": "nominal", "scale": {"domain": ["Tw", "Tha", "Tc", "RH"], "range": [[1, 0], [5, 3], [6, 2, 1.5, 2], [1, 0]]}, "legend": null},
       "strokeWidth": {"condition": {"test": "datum.s === 'RH'", "value": 3.4}, "value": 1.3},
       "color": {"condition": {"test": "datum.s === 'RH'", "value": "#454545"}, "value": "black"}
      }
     }
    ]
   },
   {
    "width": 282, "height": 220,
    "title": {"text": "b) First model", "orient": "bottom", "anchor": "end", "frame": "group", "dx": -8, "offset": 9},
    "resolve": {"scale": {"y": "independent"}, "axis": {"x": "independent"}},
    "layer": [
     {
      "data": {"name": "btr"},
      "encoding": {
       "x": {"field": "h", "type": "quantitative", "scale": {"domain": [0, 9], "nice": false}, "axis": {"orient": "top", "values": [0, 0.5, 1, 1.5, 2, 2.5, 3, 3.5, 4, 4.5, 5, 5.5, 6, 6.5, 7, 7.5, 8, 8.5, 9], "labels": false, "title": null}},
       "y": {"field": "w", "type": "quantitative", "scale": {"domain": [0, 2], "nice": false}, "axis": {"orient": "right", "values": [0, 0.25, 0.5, 0.75, 1, 1.25, 1.5, 1.75, 2], "format": ".1f", "labelExpr": "datum.value % 0.5 === 0 ? datum.label : ''", "title": "Hourly mass flux (kg/m²/hr)", "titleAngle": 270, "titleBaseline": "top", "titlePadding": 6}}
      },
      "layer": [
       {"transform": [{"filter": "datum.k === 'e'"}], "mark": {"type": "bar", "width": 12.8, "xOffset": -5.8, "fill": "white", "stroke": "black", "strokeWidth": 0.8}},
       {"transform": [{"filter": "datum.k === 'p'"}], "mark": {"type": "bar", "width": 12.8, "xOffset": 7, "fill": "#c0c0c0", "stroke": "#333333", "strokeWidth": 0.8}}
      ]
     },
     {
      "data": {"name": "tr"},
      "transform": [{"fold": ["Tw", "Tha", "Tc", "RH"], "as": ["s", "v"]}],
      "mark": {"type": "line"},
      "encoding": {
       "x": {"field": "t", "type": "quantitative", "scale": {"domain": [0, 9], "nice": false}, "axis": {"orient": "bottom", "values": [0, 0.5, 1, 1.5, 2, 2.5, 3, 3.5, 4, 4.5, 5, 5.5, 6, 6.5, 7, 7.5, 8, 8.5, 9], "format": "d", "labelExpr": "datum.value % 1 === 0 ? datum.label : ''", "title": "Elapsed time, t (hr)", "titlePadding": 5}},
       "y": {"field": "v", "type": "quantitative", "scale": {"domain": [0, 100], "nice": false}, "axis": {"orient": "left", "values": [0, 10, 20, 30, 40, 50, 60, 70, 80, 90, 100], "format": "d", "labelExpr": "datum.value % 20 === 0 ? datum.label : ''", "title": ["Temperature (ᵒC)", "Relative humidity (%)"], "titlePadding": 7, "titleLineHeight": 23}},
       "strokeDash": {"field": "s", "type": "nominal", "scale": {"domain": ["Tw", "Tha", "Tc", "RH"], "range": [[1, 0], [5, 3], [6, 2, 1.5, 2], [1, 0]]}, "legend": null},
       "strokeWidth": {"condition": {"test": "datum.s === 'RH'", "value": 3.4}, "value": 1.3},
       "color": {"condition": {"test": "datum.s === 'RH'", "value": "#454545"}, "value": "black"}
      }
     }
    ]
   }
  ],
  "spacing": 36,
  "title": {"text": "(4) Ambient air temperature, Tₐ=20°C", "orient": "bottom", "anchor": "middle", "offset": 22}
 },
 {
  "hconcat": [
   {
    "width": 282, "height": 220,
    "title": {"text": "a) Second model", "orient": "bottom", "anchor": "start", "frame": "group", "dx": -14, "offset": 9},
    "resolve": {"scale": {"y": "independent"}, "axis": {"x": "independent"}},
    "layer": [
     {
      "data": {"name": "bbl"},
      "encoding": {
       "x": {"field": "h", "type": "quantitative", "scale": {"domain": [0, 9], "nice": false}, "axis": {"orient": "top", "values": [0, 0.5, 1, 1.5, 2, 2.5, 3, 3.5, 4, 4.5, 5, 5.5, 6, 6.5, 7, 7.5, 8, 8.5, 9], "labels": false, "title": null}},
       "y": {"field": "w", "type": "quantitative", "scale": {"domain": [0, 2], "nice": false}, "axis": {"orient": "right", "values": [0, 0.25, 0.5, 0.75, 1, 1.25, 1.5, 1.75, 2], "format": ".1f", "labelExpr": "datum.value % 0.5 === 0 ? datum.label : ''", "title": "Hourly mass flux (kg/m²/hr)", "titleAngle": 270, "titleBaseline": "top", "titlePadding": 6}}
      },
      "layer": [
       {"transform": [{"filter": "datum.k === 'e'"}], "mark": {"type": "bar", "width": 9, "xOffset": -8.2, "fill": "white", "stroke": "black", "strokeWidth": 0.8}},
       {"transform": [{"filter": "datum.k === 'c'"}], "mark": {"type": "bar", "width": 9, "xOffset": 0.8, "stroke": "black", "strokeWidth": 0.8,
         "fill": {"gradient": "linear", "x1": 0, "y1": 0, "x2": 0.25, "y2": 1, "stops": [{"offset": 0, "color": "white"}, {"offset": 0.115, "color": "white"}, {"offset": 0.115, "color": "black"}, {"offset": 0.143, "color": "black"}, {"offset": 0.143, "color": "white"}, {"offset": 0.258, "color": "white"}, {"offset": 0.258, "color": "black"}, {"offset": 0.286, "color": "black"}, {"offset": 0.286, "color": "white"}, {"offset": 0.401, "color": "white"}, {"offset": 0.401, "color": "black"}, {"offset": 0.429, "color": "black"}, {"offset": 0.429, "color": "white"}, {"offset": 0.544, "color": "white"}, {"offset": 0.544, "color": "black"}, {"offset": 0.571, "color": "black"}, {"offset": 0.571, "color": "white"}, {"offset": 0.686, "color": "white"}, {"offset": 0.686, "color": "black"}, {"offset": 0.714, "color": "black"}, {"offset": 0.714, "color": "white"}, {"offset": 0.829, "color": "white"}, {"offset": 0.829, "color": "black"}, {"offset": 0.857, "color": "black"}, {"offset": 0.857, "color": "white"}, {"offset": 0.972, "color": "white"}, {"offset": 0.972, "color": "black"}, {"offset": 0.998, "color": "black"}, {"offset": 0.998, "color": "white"}, {"offset": 1, "color": "white"}]}}},
       {"transform": [{"filter": "datum.k === 'p'"}], "mark": {"type": "bar", "width": 9, "xOffset": 9.8, "fill": "#c0c0c0", "stroke": "#333333", "strokeWidth": 0.8}}
      ]
     },
     {
      "data": {"name": "bl"},
      "transform": [{"fold": ["Tw", "Tha", "Tc", "RH"], "as": ["s", "v"]}],
      "mark": {"type": "line"},
      "encoding": {
       "x": {"field": "t", "type": "quantitative", "scale": {"domain": [0, 9], "nice": false}, "axis": {"orient": "bottom", "values": [0, 0.5, 1, 1.5, 2, 2.5, 3, 3.5, 4, 4.5, 5, 5.5, 6, 6.5, 7, 7.5, 8, 8.5, 9], "format": "d", "labelExpr": "datum.value % 1 === 0 ? datum.label : ''", "title": "Elapsed time, t (hr)", "titlePadding": 5}},
       "y": {"field": "v", "type": "quantitative", "scale": {"domain": [0, 100], "nice": false}, "axis": {"orient": "left", "values": [0, 10, 20, 30, 40, 50, 60, 70, 80, 90, 100], "format": "d", "labelExpr": "datum.value % 20 === 0 ? datum.label : ''", "title": ["Temperature (ᵒC)", "Relative humidity (%)"], "titlePadding": 7, "titleLineHeight": 23}},
       "strokeDash": {"field": "s", "type": "nominal", "scale": {"domain": ["Tw", "Tha", "Tc", "RH"], "range": [[1, 0], [5, 3], [6, 2, 1.5, 2], [1, 0]]}, "legend": null},
       "strokeWidth": {"condition": {"test": "datum.s === 'RH'", "value": 3.4}, "value": 1.3},
       "color": {"condition": {"test": "datum.s === 'RH'", "value": "#454545"}, "value": "black"}
      }
     }
    ]
   },
   {
    "width": 282, "height": 220,
    "title": {"text": "b) First model", "orient": "bottom", "anchor": "end", "frame": "group", "dx": -8, "offset": 9},
    "resolve": {"scale": {"y": "independent"}, "axis": {"x": "independent"}},
    "layer": [
     {
      "data": {"name": "bbr"},
      "encoding": {
       "x": {"field": "h", "type": "quantitative", "scale": {"domain": [0, 9], "nice": false}, "axis": {"orient": "top", "values": [0, 0.5, 1, 1.5, 2, 2.5, 3, 3.5, 4, 4.5, 5, 5.5, 6, 6.5, 7, 7.5, 8, 8.5, 9], "labels": false, "title": null}},
       "y": {"field": "w", "type": "quantitative", "scale": {"domain": [0, 2], "nice": false}, "axis": {"orient": "right", "values": [0, 0.25, 0.5, 0.75, 1, 1.25, 1.5, 1.75, 2], "format": ".1f", "labelExpr": "datum.value % 0.5 === 0 ? datum.label : ''", "title": "Hourly mass flux (kg/m²/hr)", "titleAngle": 270, "titleBaseline": "top", "titlePadding": 6}}
      },
      "layer": [
       {"transform": [{"filter": "datum.k === 'e'"}], "mark": {"type": "bar", "width": 12.8, "xOffset": -5.8, "fill": "white", "stroke": "black", "strokeWidth": 0.8}},
       {"transform": [{"filter": "datum.k === 'p'"}], "mark": {"type": "bar", "width": 12.8, "xOffset": 7, "fill": "#c0c0c0", "stroke": "#333333", "strokeWidth": 0.8}}
      ]
     },
     {
      "data": {"name": "br"},
      "transform": [{"fold": ["Tw", "Tha", "Tc", "RH"], "as": ["s", "v"]}],
      "mark": {"type": "line"},
      "encoding": {
       "x": {"field": "t", "type": "quantitative", "scale": {"domain": [0, 9], "nice": false}, "axis": {"orient": "bottom", "values": [0, 0.5, 1, 1.5, 2, 2.5, 3, 3.5, 4, 4.5, 5, 5.5, 6, 6.5, 7, 7.5, 8, 8.5, 9], "format": "d", "labelExpr": "datum.value % 1 === 0 ? datum.label : ''", "title": "Elapsed time, t (hr)", "titlePadding": 5}},
       "y": {"field": "v", "type": "quantitative", "scale": {"domain": [0, 100], "nice": false}, "axis": {"orient": "left", "values": [0, 10, 20, 30, 40, 50, 60, 70, 80, 90, 100], "format": "d", "labelExpr": "datum.value % 20 === 0 ? datum.label : ''", "title": ["Temperature (ᵒC)", "Relative humidity (%)"], "titlePadding": 7, "titleLineHeight": 23}},
       "strokeDash": {"field": "s", "type": "nominal", "scale": {"domain": ["Tw", "Tha", "Tc", "RH"], "range": [[1, 0], [5, 3], [6, 2, 1.5, 2], [1, 0]]}, "legend": null},
       "strokeWidth": {"condition": {"test": "datum.s === 'RH'", "value": 3.4}, "value": 1.3},
       "color": {"condition": {"test": "datum.s === 'RH'", "value": "#454545"}, "value": "black"}
      }
     }
    ]
   }
  ],
  "spacing": 36,
  "title": {"text": "(5) Ambient air temperature, Tₐ=15°C", "orient": "bottom", "anchor": "middle", "offset": 22}
 }
]
}
